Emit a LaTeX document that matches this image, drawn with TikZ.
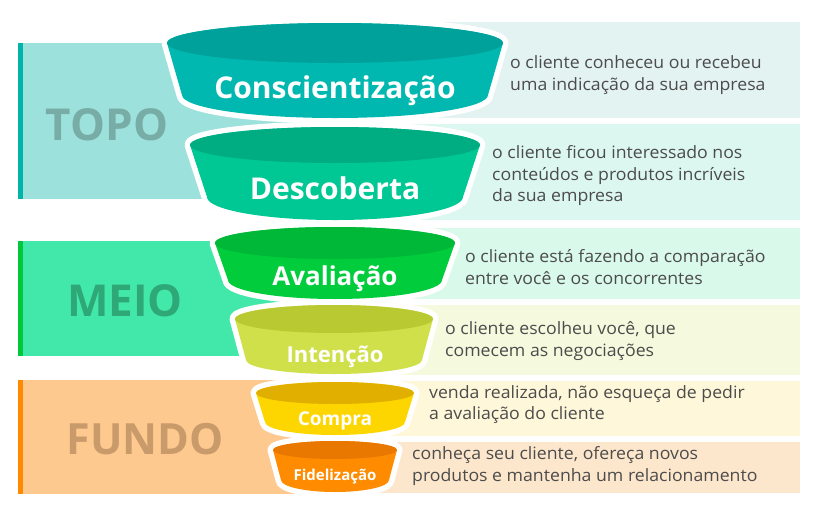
\documentclass[tikz,border=0pt]{standalone}
\usepackage{fontspec}
\setmainfont{Open Sans}
\newfontfamily\labelfont{Open Sans}
\newfontfamily\descfont{Open Sans}[FakeStretch=1.04]
\usetikzlibrary{calc}
\definecolor{topoband}{HTML}{9DE1DC}
\definecolor{topostripe}{HTML}{00B4AA}
\definecolor{topotext}{HTML}{78ACA6}
\definecolor{meioband}{HTML}{42E8AA}
\definecolor{meiostripe}{HTML}{00C83A}
\definecolor{meiotext}{HTML}{2FA878}
\definecolor{fundoband}{HTML}{FDC98F}
\definecolor{fundostripe}{HTML}{FF8A00}
\definecolor{fundotext}{HTML}{C99A6A}
\definecolor{rowa}{HTML}{E3F3F1}
\definecolor{rowb}{HTML}{DCF7EF}
\definecolor{rowc}{HTML}{D9F9EA}
\definecolor{rowd}{HTML}{F5F9DD}
\definecolor{rowe}{HTML}{FFF7D9}
\definecolor{rowf}{HTML}{FDE7CC}
\definecolor{fatop}{HTML}{00A19A}\definecolor{fabody}{HTML}{00B8B0}
\definecolor{fbtop}{HTML}{00AD83}\definecolor{fbbody}{HTML}{00C895}
\definecolor{fctop}{HTML}{00B837}\definecolor{fcbody}{HTML}{00CC3C}
\definecolor{fdtop}{HTML}{B9C932}\definecolor{fdbody}{HTML}{D0E04A}
\definecolor{fetop}{HTML}{E0AF00}\definecolor{febody}{HTML}{FDD600}
\definecolor{fftop}{HTML}{E87800}\definecolor{ffbody}{HTML}{FF8C00}
\definecolor{desctext}{HTML}{4C4C4C}
% #1 cx, #2 top y, #3 top rx, #4 top ry, #5 bottom y, #6 bottom rx, #7 bottom ry, #8 top colour, #9 body colour
\newcommand\funnelpart[9]{%
  \draw[white, line width=11pt, line join=round]
    (#1-#3,-#2) -- (#1-#6,-#5) arc[start angle=180, end angle=360, x radius=#6pt, y radius=#7pt]
    -- (#1+#3,-#2) arc[start angle=0, end angle=180, x radius=#3pt, y radius=#4pt] -- cycle;
  \fill[#9]
    (#1-#3,-#2) -- (#1-#6,-#5) arc[start angle=180, end angle=360, x radius=#6pt, y radius=#7pt]
    -- (#1+#3,-#2) arc[start angle=0, end angle=180, x radius=#3pt, y radius=#4pt] -- cycle;
  \fill[#8] (#1,-#2) ellipse[x radius=#3pt, y radius=#4pt];
}
\tikzset{
  desc/.style={anchor=west, align=left, text=desctext, inner sep=0pt,
    font=\descfont\fontsize{17}{21.5}\selectfont},
  stage/.style={anchor=base, text=white, inner sep=0pt},
  level/.style={anchor=center, inner sep=0pt, font=\bfseries\fontsize{44}{44}\selectfont},
}
\begin{document}
\begin{tikzpicture}[x=1pt, y=1pt]
\useasboundingbox (0,0) rectangle (820,-515);
\fill[white] (0,0) rectangle (820,-515);
% description rows
\fill[rowa] (335,-22) rectangle (800,-118);
\fill[rowb] (335,-124) rectangle (800,-220);
\fill[rowc] (335,-228) rectangle (800,-299);
\fill[rowd] (335,-305) rectangle (800,-375);
\fill[rowe] (335,-381) rectangle (800,-436);
\fill[rowf] (335,-442) rectangle (800,-493);
% level bands
\fill[topoband] (18,-43) rectangle (335,-199);
\fill[topostripe] (18,-43) rectangle (23,-199);
\fill[meioband] (18,-241) rectangle (335,-356);
\fill[meiostripe] (18,-241) rectangle (23,-356);
\fill[fundoband] (18,-380) rectangle (335,-494);
\fill[fundostripe] (18,-380) rectangle (23,-494);
\node[level, text=topotext] (topo) at (107,-125) {TOPO};
\node[level, text=meiotext] (meio) at (125,-301) {MEIO};
\node[level, text=fundotext, font=\bfseries\fontsize{43}{43}\selectfont] (fundo) at (145,-439) {FUNDO};
% funnels
\funnelpart{335}{43}{168}{20}{95}{153}{23}{fatop}{fabody}
\funnelpart{335}{145}{145}{18}{197}{128}{23}{fbtop}{fbbody}
\funnelpart{335}{243}{120}{16}{280}{107}{19}{fctop}{fcbody}
\funnelpart{334}{319}{99}{14}{360}{88}{14}{fdtop}{fdbody}
\funnelpart{335}{393}{79}{11}{422}{70}{13}{fetop}{febody}
\funnelpart{335}{450}{62}{9}{480}{54}{12}{fftop}{ffbody}
% stage labels
\node[stage, font=\labelfont\bfseries\fontsize{30}{30}\selectfont] (s1) at (335,-98) {Conscientização};
\node[stage, font=\labelfont\bfseries\fontsize{30}{30}\selectfont] (s2) at (335,-199) {Descoberta};
\node[stage, font=\labelfont\bfseries\fontsize{26}{26}\selectfont] (s3) at (335,-285) {Avaliação};
\node[stage, font=\labelfont\bfseries\fontsize{22}{22}\selectfont] (s4) at (335,-362) {Intenção};
\node[stage, font=\labelfont\bfseries\fontsize{19}{19}\selectfont] (s5) at (335,-425) {Compra};
\node[stage, font=\labelfont\bfseries\fontsize{15}{15}\selectfont] (s6) at (335,-480) {Fidelização};
% descriptions
\node[desc] (d1) at (510,-75) {o cliente conheceu ou recebeu\\uma indicação da sua empresa};
\node[desc] (d2) at (492,-176) {o cliente ficou interessado nos\\conteúdos e produtos incríveis\\da sua empresa};
\node[desc] (d3) at (465,-267) {o cliente está fazendo a comparação\\entre você e os concorrentes};
\node[desc] (d4) at (445,-341) {o cliente escolheu você, que\\comecem as negociações};
\node[desc] (d5) at (429,-404.5) {venda realizada, não esqueça de pedir\\a avaliação do cliente};
\node[desc] (d6) at (412,-466) {conheça seu cliente, ofereça novos\\produtos e mantenha um relacionamento};
\end{tikzpicture}
\end{document}
